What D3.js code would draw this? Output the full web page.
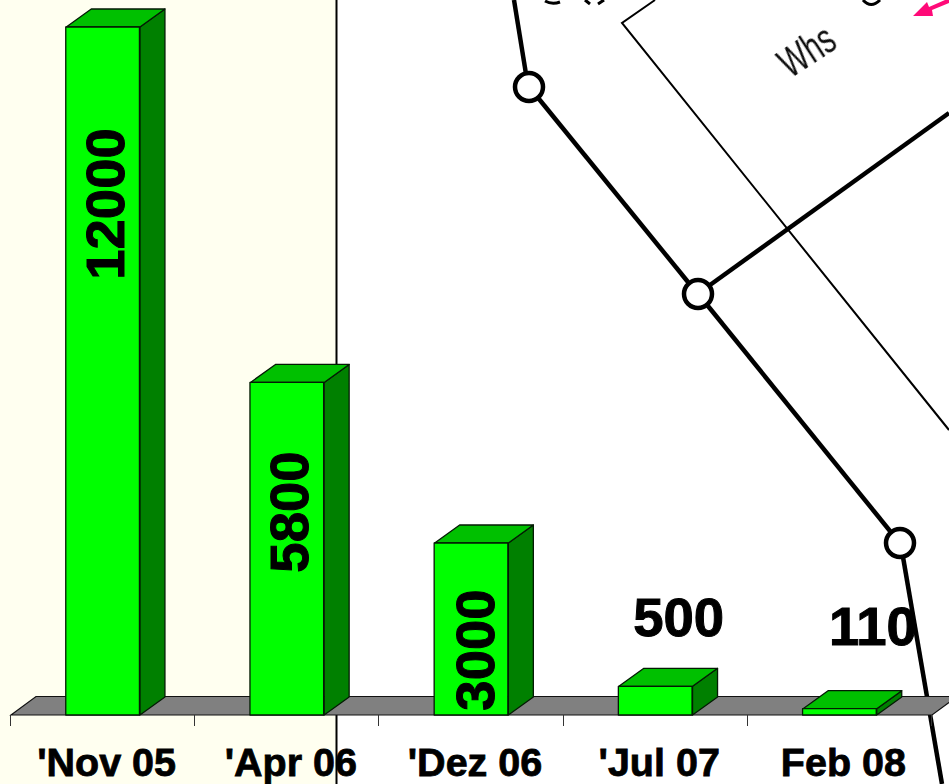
<!DOCTYPE html>
<html>
<head>
<meta charset="utf-8">
<script src="https://cdn.jsdelivr.net/npm/d3@7"></script>
<style>
  html, body { margin: 0; padding: 0; background: #fff; overflow: hidden; }
  text { font-family: "Liberation Sans", Arial, sans-serif; font-weight: bold; fill: #000; }
  .cat, .val { stroke: #000; paint-order: stroke; }
</style>
</head>
<body>
<div id="chart"></div>
<script>
const categories = ["'Nov 05", "'Apr 06", "'Dez 06", "'Jul 07", "Feb 08"];
const values = [12000, 5800, 3000, 500, 110];

const width = 949, height = 784;
const depthX = 25, depthY = 18;

const svg = d3.select('#chart').append('svg')
    .attr('width', width)
    .attr('height', height);

// scanned drawing behind the right part of the chart
function drawBackdrop() {
    const blur = svg.append('defs').append('filter').attr('id', 'scan');
    blur.append('feGaussianBlur').attr('stdDeviation', 0.7);

    svg.append('rect').attr('width', 336).attr('height', height).attr('fill', '#fffff0');

    const scan = svg.append('g').attr('filter', 'url(#scan)').attr('fill', 'none').attr('stroke', '#000');
    const thick = [
        [[514, 0], [526, 74]],
        [[539, 99], [688, 282]],
        [[708, 306], [890, 531]],
        [[903, 557], [942, 784]],
        [[710, 285], [949, 113]]
    ];
    const thin = [[[655, 0], [622, 23], [949, 430]]];
    const line = d3.line();
    scan.selectAll('.thick').data(thick).join('path')
        .attr('d', line).attr('stroke-width', 4.5);
    scan.selectAll('.thin').data(thin).join('path')
        .attr('d', line).attr('stroke-width', 2);
    scan.selectAll('circle').data([[529, 87], [698, 294], [900, 543]]).join('circle')
        .attr('cx', d => d[0]).attr('cy', d => d[1]).attr('r', 14)
        .attr('stroke-width', 4.5).attr('fill', '#fff');
    // bits of lettering cut off by the top edge
    scan.append('path')
        .attr('d', 'M545,1 Q552,5 560,2 M585,0 L590,4 M598,4 L604,0 M863,0 Q871,9 880,0')
        .attr('stroke-width', 3);

    svg.append('text')
        .attr('transform', 'translate(790,79) rotate(-33) scale(0.7,1)')
        .attr('font-size', 42)
        .style('font-weight', 'normal').style('fill', '#111')
        .attr('filter', 'url(#scan)')
        .text('Whs');

    svg.append('path')
        .attr('d', 'M913,16 L927,2 L929,7 L945,0 L949,0 L949,3 L932,10 L933,16 Z')
        .attr('fill', '#ff0a78');

    svg.append('line')
        .attr('x1', 336.5).attr('x2', 336.5).attr('y1', 0).attr('y2', height)
        .attr('stroke', '#000').attr('stroke-width', 2);
}

drawBackdrop();

const x = d3.scaleBand()
    .domain(categories)
    .range([11, 932])
    .paddingInner(0.6)
    .paddingOuter(0.3);

const y = d3.scaleLinear()
    .domain([0, 12000])
    .range([715, 27]);

// floor of the 3D plot
const floor = y(0);
const [left, right] = x.range();
svg.append('path')
    .attr('d', d3.line()([[left, floor], [left + depthX, floor - depthY - 0.5], [right + depthX, floor - depthY - 0.5], [right, floor]]) + 'Z')
    .attr('fill', '#808080')
    .attr('stroke', '#111')
    .attr('stroke-width', 1.2);

// category axis, ticks sit between the bars
const axis = svg.append('g').attr('stroke', '#333');
d3.range(categories.length + 1).forEach(i => {
    const tx = Math.round(left + i * x.step()) - 0.5;
    axis.append('line').attr('x1', tx).attr('x2', tx).attr('y1', floor).attr('y2', floor + 11);
});

const bars = svg.selectAll('.bar')
    .data(categories.map((c, i) => ({ category: c, value: values[i] })))
    .join('g')
    .attr('class', 'bar')
    .attr('stroke', '#041a04')
    .attr('stroke-width', 1.3)
    .attr('stroke-linejoin', 'round');

const polygon = points => d3.line()(points) + 'Z';

// side face
bars.append('path')
    .attr('fill', '#008000')
    .attr('d', d => {
        const x1 = x(d.category) + x.bandwidth();
        return polygon([[x1, y(d.value)], [x1 + depthX, y(d.value) - depthY], [x1 + depthX, floor - depthY], [x1, floor]]);
    });

// top face
bars.append('path')
    .attr('fill', '#00c000')
    .attr('d', d => {
        const x0 = x(d.category), x1 = x0 + x.bandwidth(), t = y(d.value);
        return polygon([[x0, t], [x0 + depthX, t - depthY], [x1 + depthX, t - depthY], [x1, t]]);
    });

// front face
bars.append('rect')
    .attr('fill', '#00ff00')
    .attr('x', d => x(d.category) - 0.5)
    .attr('y', d => y(d.value))
    .attr('width', x.bandwidth())
    .attr('height', d => floor - y(d.value));

// category labels
svg.selectAll('.cat').data(categories).join('text')
    .attr('class', 'cat')
    .attr('x', d => x(d) + x.bandwidth() / 2 + 3.5)
    .attr('y', 775.5)
    .attr('text-anchor', 'middle')
    .attr('font-size', 39.5)
    .attr('stroke-width', 0.8)
    .text(d => d);

// value labels: the tall bars carry them rotated, the short ones above
const labelOffsets = [
    { dx: 16, cy: 204, rotate: true },
    { dx: 16, cy: 512, rotate: true },
    { dx: 17, cy: 650, rotate: true },
    { dx: 23, base: 635.5, rotate: false },
    { dx: 33, base: 644.5, rotate: false }
];

svg.selectAll('.val').data(values).join('text')
    .attr('class', 'val')
    .attr('font-size', 54.5)
    .attr('stroke-width', 1)
    .attr('text-anchor', 'middle')
    .attr('transform', (d, i) => {
        const o = labelOffsets[i];
        const cx = x(categories[i]) + x.bandwidth() / 2 + o.dx;
        return o.rotate ? `translate(${cx + 5},${o.cy}) rotate(-90)` : `translate(${cx},${o.base})`;
    })
    .text(d => d);
</script>
</body>
</html>
